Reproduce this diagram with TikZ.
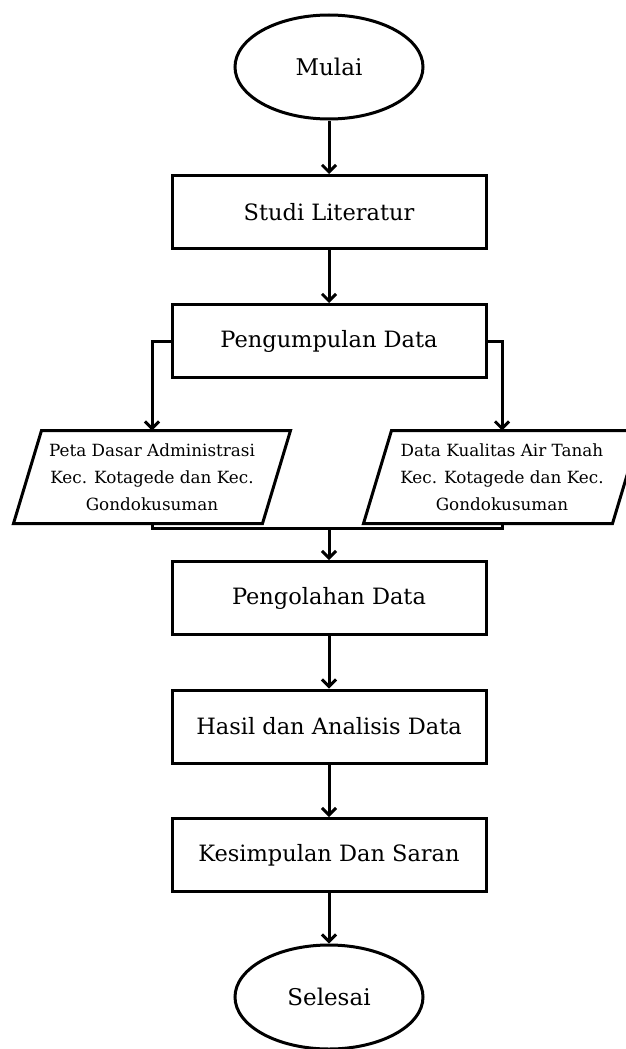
\documentclass[tikz,border=0pt]{standalone}
\usepackage{fontspec}
\setmainfont{DejaVu Serif}
\usetikzlibrary{shapes.geometric,arrows.meta,calc}
\begin{document}
\begin{tikzpicture}[x=1pt,y=-1pt,
  line width=3pt,
  >={Straight Barb[length=7pt,width=14pt]},
  term/.style={ellipse,draw,minimum width=188pt,minimum height=104pt,inner sep=0pt,font=\fontsize{23}{27}\selectfont},
  procbox/.style={rectangle,draw,minimum width=314pt,minimum height=73pt,inner sep=0pt,font=\fontsize{22.5}{27}\selectfont},
  databox/.style={rectangle,minimum width=218pt,minimum height=90pt,inner sep=0pt,align=center,font=\fontsize{16.8}{27}\selectfont},
  conn/.style={->}
]
\useasboundingbox (0,0) rectangle (626,1049);
\fill[white] (0,0) rectangle (626,1049);

\node[term] (mulai) at (329,67) {Mulai};
\node[procbox] (studi) at (329,212) {Studi Literatur};
\node[procbox] (kumpul) at (329,341) {Pengumpulan Data};
\node[databox] (peta) at (152,477) {Peta Dasar Administrasi\\Kec. Kotagede dan Kec.\\Gondokusuman};
\node[databox] (air) at (502,477) {Data Kualitas Air Tanah\\Kec. Kotagede dan Kec.\\Gondokusuman};
\node[procbox] (olah) at (329,598) {Pengolahan Data};
\node[procbox] (hasil) at (329,726.5) {Hasil dan Analisis Data};
\node[procbox] (simpul) at (329,855) {Kesimpulan Dan Saran};
\node[term] (selesai) at (329,997) {Selesai};

% parallelograms
\draw[line join=miter] (peta.north west) -- ($(peta.north east)+(28,0)$) -- (peta.south east) -- ($(peta.south west)+(-28,0)$) -- cycle;
\draw[line join=miter] (air.north west) -- ($(air.north east)+(28,0)$) -- (air.south east) -- ($(air.south west)+(-28,0)$) -- cycle;

\coordinate (j) at (329,528);

\draw[conn] (mulai) -- (studi);
\draw[conn] (studi) -- (kumpul);
\draw[conn] (kumpul.west) -| (peta.north);
\draw[conn] (kumpul.east) -| (air.north);
\draw (peta.south) -- (peta.south |- j) -- (air.south |- j) -- (air.south);
\draw[conn] (j) -- (olah);
\draw[conn] (olah) -- (hasil);
\draw[conn] (hasil) -- (simpul);
\draw[conn] (simpul) -- (selesai);
\end{tikzpicture}
\end{document}
